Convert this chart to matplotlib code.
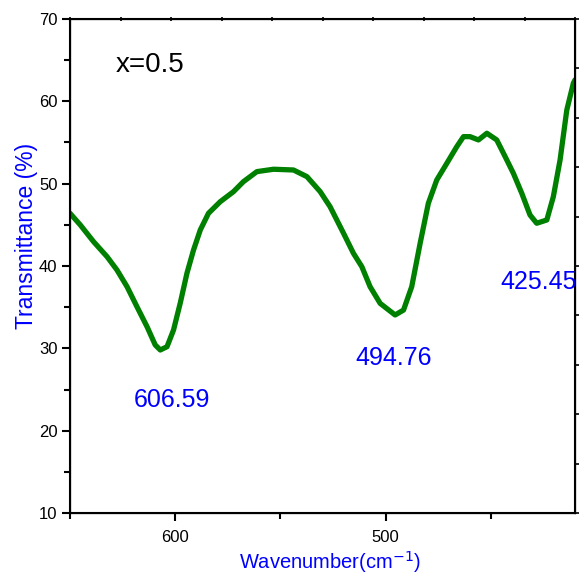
import numpy as np
import matplotlib.pyplot as plt
from matplotlib.ticker import MultipleLocator

plt.rcParams['font.family'] = ['Liberation Sans', 'DejaVu Sans']

# FTIR spectrum, x = 0.5
wavenumber = [650.0, 645.1, 638.8, 632.4, 627.7, 622.9, 618.2, 613.4, 609.5, 607.1,
              603.9, 600.8, 597.6, 594.4, 591.3, 588.1, 584.2, 578.6, 572.3, 567.6,
              561.2, 553.3, 543.8, 537.4, 531.1, 526.4, 520.0, 515.3, 511.3, 507.4,
              502.6, 495.5, 491.5, 487.6, 483.6, 479.7, 475.7, 470.9, 466.2, 463.0,
              459.9, 455.9, 451.9, 447.2, 443.2, 439.3, 435.3, 431.4, 428.2, 423.4,
              420.3, 417.1, 413.9, 410.8, 410.0]
transmittance = [46.40, 44.98, 42.95, 41.13, 39.52, 37.49, 35.06, 32.63, 30.41, 29.80,
                 30.20, 32.23, 35.51, 39.15, 41.94, 44.37, 46.40, 47.81, 49.03, 50.24,
                 51.46, 51.75, 51.66, 50.85, 49.03, 47.20, 43.97, 41.54, 39.91, 37.49,
                 35.46, 34.05, 34.65, 37.49, 42.76, 47.62, 50.45, 52.48, 54.49, 55.71,
                 55.71, 55.31, 56.12, 55.31, 53.28, 51.26, 48.83, 46.20, 45.19, 45.59,
                 48.42, 52.88, 58.95, 62.19, 62.6]

peak_labels = ['606.59', '494.76', '425.45']
label_x = [601.7, 496.0, 427.1]
label_y = [23.7, 28.8, 38.1]

fig = plt.figure(figsize=(5.82, 5.75), dpi=100)
ax = fig.add_axes([0.1203, 0.1078, 0.8677, 0.8592])

ax.plot(wavenumber, transmittance, color='green', linewidth=3.8,
        solid_joinstyle='round', solid_capstyle='round')

ax.set_xlim(650, 410)
ax.set_ylim(10, 70)

ax.xaxis.set_major_locator(MultipleLocator(100))
ax.xaxis.set_minor_locator(MultipleLocator(50))
ax.yaxis.set_major_locator(MultipleLocator(10))
ax.yaxis.set_minor_locator(MultipleLocator(5))
ax.tick_params(axis='both', which='major', direction='out', length=6, width=1.5,
               labelsize=12, pad=6)
ax.tick_params(axis='x', which='minor', direction='out', length=4, width=1.5)
ax.tick_params(axis='y', which='minor', direction='out', length=4, width=1.5)
ax.tick_params(axis='y', which='major', pad=3)

for s in ax.spines.values():
    s.set_linewidth(1.5)

# tick marks on the top and right frame
axt = ax.twiny()
axt.set_xlim(0, 1)
axt.set_xticks(np.linspace(0, 1, 11))
axt.set_xticklabels([])
axt.tick_params(axis='x', direction='inout', length=3, width=1.2)
axr = ax.twinx()
axr.set_ylim(0, 1)
axr.set_yticks(np.linspace(0, 1, 11))
axr.set_yticklabels([])
axr.tick_params(axis='y', direction='out', length=3, width=1.2)

ax.set_xlabel('Wavenumber(cm$^{-1}$)', color='blue', fontsize=14.5)
ax.xaxis.set_label_coords(0.515, -0.1, transform=ax.transAxes)
ax.xaxis.label.set_va('center')
ax.set_ylabel('Transmittance (%)', color='blue', fontsize=16.5)
ax.yaxis.set_label_coords(-0.087, 0.56, transform=ax.transAxes)
ax.yaxis.label.set_va('center')

ax.text(0.09, 0.907, 'x=0.5', transform=ax.transAxes, fontsize=20,
        color='black', va='center', ha='left')
for lab, x, y in zip(peak_labels, label_x, label_y):
    ax.text(x, y, lab, color='blue', fontsize=18, ha='center', va='center')

plt.savefig('out.png', dpi=100)
